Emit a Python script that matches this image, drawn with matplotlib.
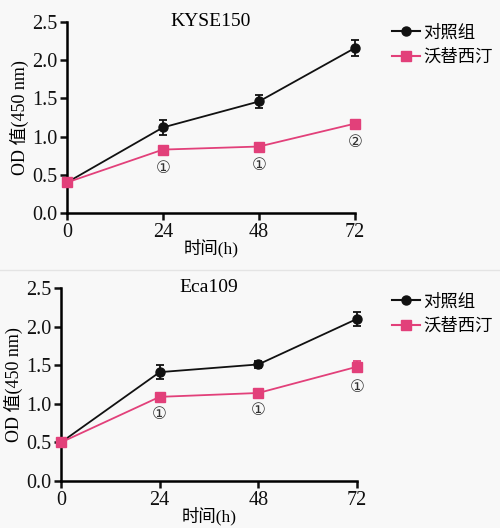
import matplotlib
matplotlib.use("Agg")
import matplotlib.pyplot as plt
from matplotlib.lines import Line2D

plt.rcParams["font.family"] = ["Liberation Serif", "Noto Sans CJK SC"]
plt.rcParams["axes.unicode_minus"] = False

hours = [0, 24, 48, 72]
x_ticks = [0, 24, 48, 72]
y_ticks = [0.0, 0.5, 1.0, 1.5, 2.0, 2.5]
groups = ["对照组", "沃替西汀"]
colors = ["#111111", "#e2407a"]
markers = ["o", "s"]

# KYSE150
kyse_ctrl = [0.40, 1.12, 1.46, 2.16]
kyse_ctrl_err = [0.02, 0.10, 0.08, 0.11]
kyse_vort = [0.40, 0.83, 0.87, 1.17]
kyse_vort_err = [0.02, 0.05, 0.05, 0.05]
kyse_marks = ["", "①", "①", "②"]

# Eca109
eca_ctrl = [0.50, 1.41, 1.51, 2.10]
eca_ctrl_err = [0.02, 0.09, 0.05, 0.09]
eca_vort = [0.50, 1.09, 1.14, 1.48]
eca_vort_err = [0.02, 0.03, 0.03, 0.07]
eca_marks = ["", "①", "①", "①"]

W, H = 500, 528
panels = [
    ("KYSE150", kyse_ctrl, kyse_ctrl_err, kyse_vort, kyse_vort_err, kyse_marks,
     [67 / W, 1 - 213 / H, 288 / W, 191 / H], 25),
    ("Eca109", eca_ctrl, eca_ctrl_err, eca_vort, eca_vort_err, eca_marks,
     [61 / W, 1 - 481 / H, 296 / W, 193 / H], 294),
]

fig = plt.figure(figsize=(5.0, 5.28), dpi=100)
fig.patch.set_facecolor("#f8f8f8")

# faint divider between the two panels
fig.add_artist(Line2D([0, 1], [1 - 270 / H] * 2, color="#e4e4e4", lw=1))

handles = [Line2D([], [], color=c, marker=m, markersize=6.5, lw=1.5)
           for c, m in zip(colors, markers)]

for title, ctrl, ctrl_err, vort, vort_err, marks, rect, leg_top in panels:
    ax = fig.add_axes(rect)
    ax.set_facecolor("#f8f8f8")
    series = [(ctrl, ctrl_err), (vort, vort_err)]
    for (vals, errs), name, c, m in zip(series, groups, colors, markers):
        ax.errorbar(hours, vals, yerr=errs, color=c, marker=m, markersize=6.5,
                    lw=1.3, elinewidth=1.3, capsize=3, capthick=1.3,
                    clip_on=False, label=name, zorder=3)
    for h, v, e, t in zip(hours, vort, vort_err, marks):
        if t:
            ax.text(h, v - e - 0.07, t, ha="center", va="top", fontsize=12,
                    family=["DejaVu Sans"], color="#333333")
    ax.set_xlim(0, 72)
    ax.set_ylim(0, 2.5)
    ax.set_xticks(x_ticks)
    ax.set_yticks(y_ticks)
    ax.set_yticklabels([f"{v:.1f}" for v in y_ticks])
    ax.tick_params(labelsize=14.5, width=1.8, length=5, direction="out",
                   colors="#111111", pad=2)
    for s in ["top", "right"]:
        ax.spines[s].set_visible(False)
    for s in ["left", "bottom"]:
        ax.spines[s].set_linewidth(1.8)
    ax.set_xlabel("时间(h)", fontsize=12.5, labelpad=-2)
    ax.set_ylabel("OD 值(450 nm)", fontsize=13, labelpad=2)
    ax.text(0.5, 1.0, title, transform=ax.transAxes, ha="center", va="center",
            fontsize=14)
    fig.legend(handles, groups, loc="upper left",
               bbox_to_anchor=(392 / W, 1 - leg_top / H), frameon=False,
               fontsize=12.5, handlelength=1.6, handletextpad=0.2,
               labelspacing=0.5, borderpad=0, borderaxespad=0)

fig.savefig("out.png", dpi=100, facecolor=fig.get_facecolor())
